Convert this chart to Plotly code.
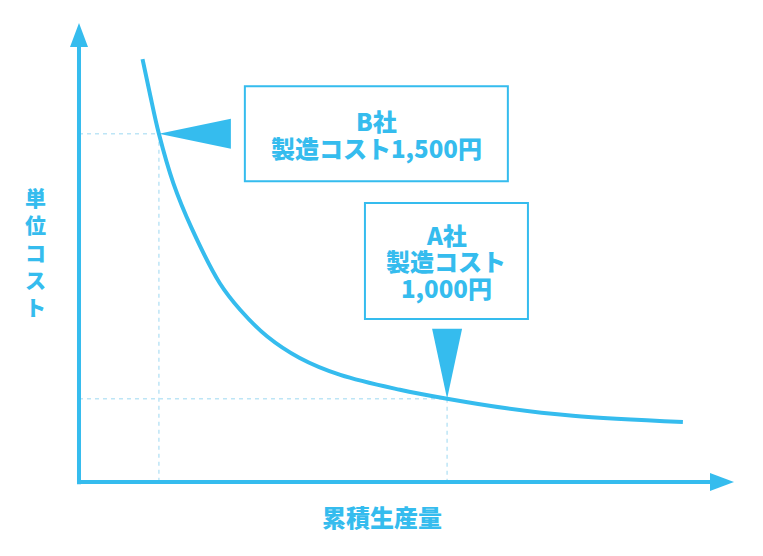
import plotly.graph_objects as go

# cumulative production (arbitrary units) vs unit cost (yen)
production = [9.7, 10.8, 12.2, 14.4, 17.2, 21.5, 24.6, 28.7, 33.7, 39.9, 49.0, 56.2, 65.3, 75.4, 92.2]
unit_cost = [1641, 1577, 1500, 1407, 1322, 1218, 1168, 1118, 1077, 1045, 1017, 1000, 982, 968, 956]

# the two marked companies
company_b = (12.2, 1500)
company_a = (56.2, 1000)
label_b = ["B社", "製造コスト1,500円"]
label_a = ["A社", "製造コスト", "1,000円"]
box_b_center = (45.4, 1500)
box_a_center = (56.1, 1260)

x_title = "累積生産量"
y_title = "単位コスト"

# axis origin / arrow tips in data units
x0, x_tip = 0, 100
y0, y_tip = 843, 1709

BLUE = "#35BCEE"
LIGHT = "#BDE5F6"
FONT = "Noto Sans CJK JP"
LINE_GAP = 26.5  # px between text lines in the boxes

fig = go.Figure()

# dashed guide lines
for px_, py_ in [company_b, company_a]:
    fig.add_trace(go.Scatter(
        x=[x0, px_, px_], y=[py_, py_, y0],
        mode="lines", line=dict(color=LIGHT, width=1.5, dash="4px,4px"),
        hoverinfo="skip", showlegend=False
    ))

# the learning curve
fig.add_trace(go.Scatter(
    x=production, y=unit_cost, mode="lines",
    line=dict(color=BLUE, width=4, shape="spline", smoothing=1.0),
    hoverinfo="skip", showlegend=False
))

shapes = []
# axes
shapes.append(dict(type="line", xref="x", yref="y", x0=x0, x1=x0, y0=y0 - 4, y1=y_tip - 30,
                   line=dict(color=BLUE, width=4)))
shapes.append(dict(type="line", xref="x", yref="y", x0=x0, x1=x_tip - 2, y0=y0, y1=y0,
                   line=dict(color=BLUE, width=4)))
# axis arrowheads
shapes.append(dict(type="path", xref="x", yref="y", xsizemode="pixel", ysizemode="pixel",
                   xanchor=x0, yanchor=y_tip, path="M0,0 L-9,-24 L9,-24 Z",
                   fillcolor=BLUE, line=dict(width=0)))
shapes.append(dict(type="path", xref="x", yref="y", xsizemode="pixel", ysizemode="pixel",
                   xanchor=x_tip, yanchor=y0, path="M0,0 L-24,-9 L-24,9 Z",
                   fillcolor=BLUE, line=dict(width=0)))
# pointer triangles
shapes.append(dict(type="path", xref="x", yref="y", xsizemode="pixel", ysizemode="pixel",
                   xanchor=company_b[0], yanchor=company_b[1], path="M0,0 L72,15 L72,-15 Z",
                   fillcolor=BLUE, line=dict(width=0)))
shapes.append(dict(type="path", xref="x", yref="y", xsizemode="pixel", ysizemode="pixel",
                   xanchor=company_a[0], yanchor=company_a[1], path="M0,0 L-15,70 L15,70 Z",
                   fillcolor=BLUE, line=dict(width=0)))
# label boxes
shapes.append(dict(type="rect", xref="x", yref="y", xsizemode="pixel", ysizemode="pixel",
                   xanchor=box_b_center[0], yanchor=box_b_center[1],
                   x0=-131.5, x1=131.5, y0=-47.5, y1=47.5,
                   line=dict(color=BLUE, width=2), fillcolor="white"))
shapes.append(dict(type="rect", xref="x", yref="y", xsizemode="pixel", ysizemode="pixel",
                   xanchor=box_a_center[0], yanchor=box_a_center[1],
                   x0=-81.5, x1=81.5, y0=-58, y1=58,
                   line=dict(color=BLUE, width=2), fillcolor="white"))

heavy = dict(family=FONT, size=24, color=BLUE, weight=900)

annotations = []
for (cx, cy), lines in [(box_b_center, label_b), (box_a_center, label_a)]:
    top = (len(lines) - 1) / 2 * LINE_GAP
    for i, line in enumerate(lines):
        annotations.append(dict(x=cx, y=cy, text=line, showarrow=False,
                                yshift=top - i * LINE_GAP, font=heavy))
annotations.append(dict(x=46.3, y=777, text=x_title, showarrow=False, font=heavy))
annotations.append(dict(x=-6.7, y=1277, text="<br>".join(y_title), showarrow=False,
                        font=dict(family=FONT, size=21, color=BLUE, weight=900)))

fig.update_layout(
    width=763, height=556,
    margin=dict(l=0, r=0, t=0, b=0),
    plot_bgcolor="white", paper_bgcolor="white",
    xaxis=dict(range=[-12.06, 104.43], visible=False, fixedrange=True),
    yaxis=dict(range=[703.4, 1752.4], visible=False, fixedrange=True),
    shapes=shapes,
    annotations=annotations,
)

# the page body has a default 8px margin; drop it so the figure fills the window
fig.write_html("out.html", config={"displayModeBar": False},
               post_script="document.body.style.margin='0';")
